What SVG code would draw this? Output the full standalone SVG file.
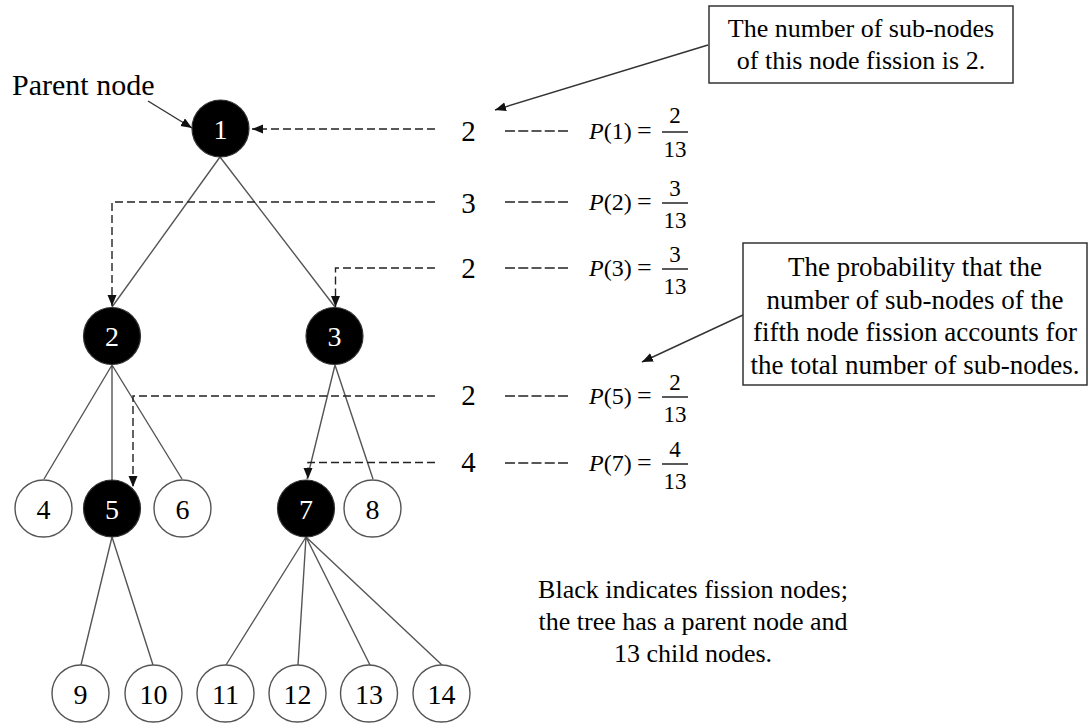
<svg xmlns="http://www.w3.org/2000/svg" width="1089" height="724" viewBox="0 0 1089 724">
<defs>
<marker id="ah" markerUnits="userSpaceOnUse" markerWidth="12" markerHeight="10" refX="11" refY="4.5" orient="auto">
<path d="M0,0 L11,4.5 L0,9 z" fill="#111"/>
</marker>
<style>
text{font-family:"Liberation Serif","Times New Roman",serif;fill:#000}
.edge{stroke:#555;stroke-width:1.4;fill:none}
.dash{stroke:#222;stroke-width:1.4;fill:none;stroke-dasharray:8 4}
.sdash{stroke:#222;stroke-width:1.3;fill:none;stroke-dasharray:10 3.25}
.call{stroke:#333;stroke-width:1.4;fill:none}
.fis{fill:#000;stroke:#333;stroke-width:1.2}
.leaf{fill:#fff;stroke:#555;stroke-width:1.4}
.nl{font-size:28px;text-anchor:middle}
.num{font-size:29px;text-anchor:middle}
.eq{font-size:24px}
.fr{font-size:23px;text-anchor:middle}
.bar{stroke:#000;stroke-width:1.3}
.box{fill:#fff;stroke:#333;stroke-width:1.5}
.bt{font-size:26px;text-anchor:middle}
</style>
</defs>
<rect width="1089" height="724" fill="#fff"/>
<g id="connectors">
<path class="edge" d="M220,157 L112,307 M220,157 L335,307 M112,365 L44,479 M112,365 L112,480 M112,365 L182,479 M335,365 L307,479 M335,365 L373,479 M112,537 L81,665 M112,537 L153,665 M306,537 L226,665 M306,537 L298,665 M306,537 L370,665 M306,537 L442,665"/>
<path class="dash" d="M435,129 L252,129" marker-end="url(#ah)"/>
<path class="dash" d="M435,202 L112,202 L112,306" marker-end="url(#ah)"/>
<path class="dash" d="M435,268 L335.5,268 L335.5,307" marker-end="url(#ah)"/>
<path class="dash" d="M435,396 L133,396 L133,487" marker-end="url(#ah)"/>
<path class="dash" d="M435,462.5 L308,462.5 L308,479" marker-end="url(#ah)"/>
<path class="call" d="M148,101 L192,128" marker-end="url(#ah)"/>
<path class="call" d="M708,45 L495,110" marker-end="url(#ah)"/>
<path class="call" d="M743,315 L642,362" marker-end="url(#ah)"/>
<path class="sdash" d="M505,131 L568,131 M505,202 L568,202 M505,268 L568,268 M505,396 L568,396 M505,463 L568,463"/>
</g>
<g id="n1"><circle class="fis" cx="220.5" cy="128.5" r="28.5"/><text class="nl" x="220.5" y="138.5" style="fill:#fff">1</text></g>
<g id="n2"><circle class="fis" cx="112" cy="336" r="28.5"/><text class="nl" x="112" y="346" style="fill:#fff">2</text></g>
<g id="n3"><circle class="fis" cx="334.5" cy="336" r="28.5"/><text class="nl" x="334.5" y="346" style="fill:#fff">3</text></g>
<g id="n4"><circle class="leaf" cx="43.5" cy="508.5" r="28.5"/><text class="nl" x="43.5" y="518.5">4</text></g>
<g id="n5"><circle class="fis" cx="112" cy="508.5" r="28.5"/><text class="nl" x="112" y="518.5" style="fill:#fff">5</text></g>
<g id="n6"><circle class="leaf" cx="182.5" cy="508.5" r="28.5"/><text class="nl" x="182.5" y="518.5">6</text></g>
<g id="n7"><circle class="fis" cx="306" cy="508.5" r="28.5"/><text class="nl" x="306" y="518.5" style="fill:#fff">7</text></g>
<g id="n8"><circle class="leaf" cx="372.5" cy="508.5" r="28.5"/><text class="nl" x="372.5" y="518.5">8</text></g>
<g id="n9"><circle class="leaf" cx="80.5" cy="693.5" r="28.5"/><text class="nl" x="80.5" y="703.5">9</text></g>
<g id="n10"><circle class="leaf" cx="153.5" cy="693.5" r="28.5"/><text class="nl" x="153.5" y="703.5">10</text></g>
<g id="n11"><circle class="leaf" cx="225.5" cy="693.5" r="28.5"/><text class="nl" x="225.5" y="703.5">11</text></g>
<g id="n12"><circle class="leaf" cx="297.5" cy="693.5" r="28.5"/><text class="nl" x="297.5" y="703.5">12</text></g>
<g id="n13"><circle class="leaf" cx="369" cy="693.5" r="28.5"/><text class="nl" x="369" y="703.5">13</text></g>
<g id="n14"><circle class="leaf" cx="441.5" cy="693.5" r="28.5"/><text class="nl" x="441.5" y="703.5">14</text></g>
<g id="parent-label"><text x="12" y="95" style="font-size:30px">Parent node</text></g>
<g id="row1">
<text class="num" x="468.5" y="141">2</text>
<text class="eq" x="589" y="139"><tspan font-style="italic">P</tspan>(1)</text>
<text x="637" y="139" style="font-size:26px">=</text>
<line class="bar" x1="662" y1="132" x2="688" y2="132"/>
<text class="fr" x="675" y="123">2</text><text class="fr" x="675" y="157">13</text>
</g>
<g id="row2">
<text class="num" x="468.5" y="213">3</text>
<text class="eq" x="589" y="210"><tspan font-style="italic">P</tspan>(2)</text>
<text x="637" y="210" style="font-size:26px">=</text>
<line class="bar" x1="662" y1="203" x2="688" y2="203"/>
<text class="fr" x="675" y="196">3</text><text class="fr" x="675" y="228">13</text>
</g>
<g id="row3">
<text class="num" x="468.5" y="278">2</text>
<text class="eq" x="589" y="276"><tspan font-style="italic">P</tspan>(3)</text>
<text x="637" y="276" style="font-size:26px">=</text>
<line class="bar" x1="662" y1="269" x2="688" y2="269"/>
<text class="fr" x="675" y="262">3</text><text class="fr" x="675" y="294">13</text>
</g>
<g id="row5">
<text class="num" x="468.5" y="405">2</text>
<text class="eq" x="589" y="404"><tspan font-style="italic">P</tspan>(5)</text>
<text x="637" y="404" style="font-size:26px">=</text>
<line class="bar" x1="662" y1="397" x2="688" y2="397"/>
<text class="fr" x="675" y="390">2</text><text class="fr" x="675" y="422">13</text>
</g>
<g id="row7">
<text class="num" x="468.5" y="472">4</text>
<text class="eq" x="589" y="471"><tspan font-style="italic">P</tspan>(7)</text>
<text x="637" y="471" style="font-size:26px">=</text>
<line class="bar" x1="662" y1="464" x2="688" y2="464"/>
<text class="fr" x="675" y="457">4</text><text class="fr" x="675" y="489">13</text>
</g>
<g id="box1">
<rect class="box" x="709" y="6" width="304" height="77"/>
<text class="bt" x="861" y="37">The number  of sub-nodes</text>
<text class="bt" x="861" y="69">of this node  fission is 2.</text>
</g>
<g id="box2">
<rect class="box" x="743" y="243" width="344" height="142"/>
<text class="bt" x="915" y="276" style="font-size:27px">The probability  that the</text>
<text class="bt" x="915" y="308.5" style="font-size:27px">number  of sub-nodes  of the</text>
<text class="bt" x="915" y="341" style="font-size:27px">fifth node  fission  accounts  for</text>
<text class="bt" x="915" y="373.5" style="font-size:27px">the total number of sub-nodes.</text>
</g>
<g id="note">
<text class="bt" x="693" y="598">Black indicates  fission nodes;</text>
<text class="bt" x="693" y="630">the tree has a parent node and</text>
<text class="bt" x="693" y="662">13 child nodes.</text>
</g>
</svg>
